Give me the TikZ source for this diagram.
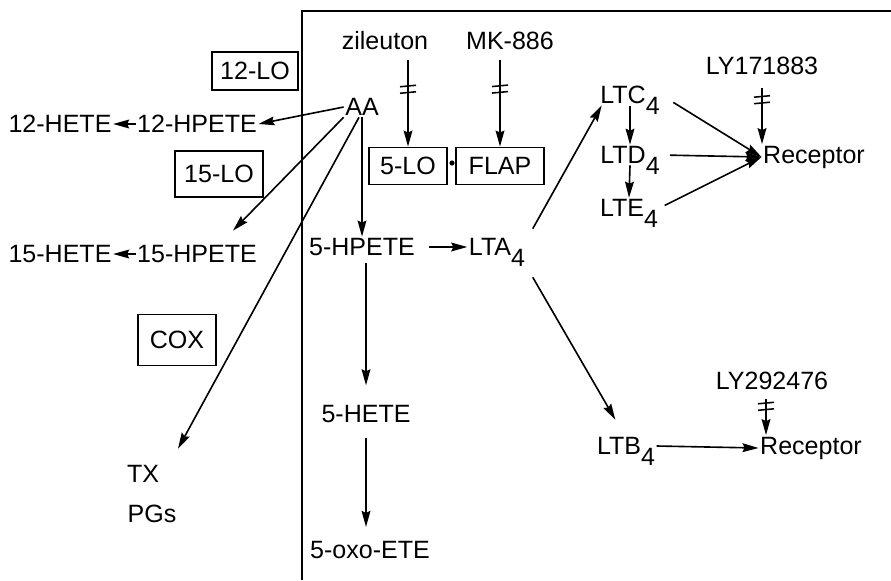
\documentclass[tikz,border=0pt]{standalone}
\usepackage{fontspec}
\setmainfont{Liberation Sans}
\usetikzlibrary{calc}
\usetikzlibrary{arrows.meta}
\newcommand{\low}[1]{\raisebox{-0.45em}[\height][0pt]{#1}}
\tikzset{
  txt/.style={inner sep=1pt},
  enz/.style={draw, line width=1.3pt, inner sep=0pt},
  arr/.style={line width=1.15pt, -{Stealth[length=4mm, width=2.2mm, inset=0.5mm]}},
  dbar/.pic={\draw[line width=1.1pt, -, shorten <=0pt, shorten >=0pt] (-8,-3) -- (8,-4.5) (-8,3.5) -- (8,2);}
}
\begin{document}
\begin{tikzpicture}[x=0.025cm, y=-0.025cm, font=\fontsize{17.8}{20}\selectfont]
\useasboundingbox (0,0) rectangle (891,580);
\draw[line width=1.4pt] (302,580) -- (302,11) -- (891,11);
% inhibitors
\node[txt] (zil) at (385,41) {zileuton};
\node[txt] (mk) at (510,41) {MK-886};
\node[txt] (ly1) at (762,66) {LY171883};
\node[txt] (ly2) at (772,381) {LY292476};
% enzymes
\node[enz, minimum width=2.15cm, minimum height=0.95cm] (lo12) at (255,71) {12-LO};
\node[enz, minimum width=2.2cm, minimum height=1.15cm] (lo15) at (219,174) {15-LO};
\node[enz, minimum width=1.95cm, minimum height=1.275cm] (cox) at (177,340) {COX};
\node[enz, minimum width=1.95cm, minimum height=0.925cm] (lo5) at (408,166) {5-LO};
\node[enz, minimum width=2.2cm, minimum height=0.925cm] (flap) at (500,166) {FLAP};
\node[circle, fill, inner sep=0pt, minimum size=0.13cm] (dot) at (452,163) {};
% metabolites
\node[txt] (aa) at (362,107) {AA};
\node[txt] (hete12) at (60,124) {12-HETE};
\node[txt] (hpete12) at (197,124) {12-HPETE};
\node[txt] (hete15) at (60,254) {15-HETE};
\node[txt] (hpete15) at (197,254) {15-HPETE};
\node[txt] (tx) at (143,474) {TX};
\node[txt] (pgs) at (152,514) {PGs};
\node[txt] (hpete5) at (362,247) {5-HPETE};
\node[txt] (hete5) at (366,414) {5-HETE};
\node[txt] (oxo) at (370,550) {5-oxo-ETE};
\node[txt] (lta) at (497,247) {LTA\low{4}};
\node[txt] (ltc) at (630,95) {LTC\low{4}};
\node[txt] (ltd) at (630,155) {LTD\low{4}};
\node[txt] (lte) at (629,208) {LTE\low{4}};
\node[txt] (ltb) at (626,446) {LTB\low{4}};
\node[txt] (rec1) at (814,157) {Receptor};
\node[txt] (rec2) at (811,448) {Receptor};
% arrows
\draw[arr] (aa.west) -- (hpete12.east);
\draw[arr] (aa.south west) -- ($(hpete15.north)+(36,-13)$);
\draw[arr] ($(aa.south)+(-3,0)$) -- ($(tx.north)+(35,-15)$);
\draw[arr] (aa.south) -- (aa.south |- hpete5.north);
\draw[arr] (hpete12.west) -- (hete12.east);
\draw[arr] (hpete15.west) -- (hete15.east);
\draw[arr, shorten <=6pt] (lo5.north |- zil.south) -- (lo5.north) pic[pos=0.4]{dbar};
\draw[arr, shorten <=6pt] (flap.north |- mk.south) -- (flap.north) pic[pos=0.4]{dbar};
\draw[arr, shorten <=9pt] (hpete5.east) -- (lta.west);
\draw[arr, shorten <=4pt, shorten >=13pt] (hete5.north |- hpete5.south) -- (hete5.north);
\draw[arr, shorten <=10pt, shorten >=9pt] (hete5.south) -- (hete5.south |- oxo.north);
\draw[arr] ($(lta.north east)+(6,-8)$) -- ($(ltc.south west)+(3,0)$);
\draw[arr] ($(lta.south east)+(6,20)$) -- ($(ltb.north west)+(20,-16)$);
\draw[arr] (ltc.south) -- (ltd.north);
\draw[arr] (ltd.south) -- (lte.north);
\draw[arr, shorten <=10pt] (ltc.east) -- (rec1.west);
\draw[arr, shorten <=6pt] (ltd.east) -- (rec1.west);
\draw[arr, shorten <=4pt] (lte.east) -- (rec1.west);
\draw[arr, shorten <=8pt] (ly1.south) -- (ly1.south |- rec1.north) pic[pos=0.35]{dbar};
\draw[arr] (ltb.east) -- (rec2.west);
\draw[arr, shorten <=5pt] ($(ly2.south)+(-6,0)$) -- ($(ly2.south |- rec2.north)+(-6,0)$) pic[pos=0.35]{dbar};
\end{tikzpicture}
\end{document}
